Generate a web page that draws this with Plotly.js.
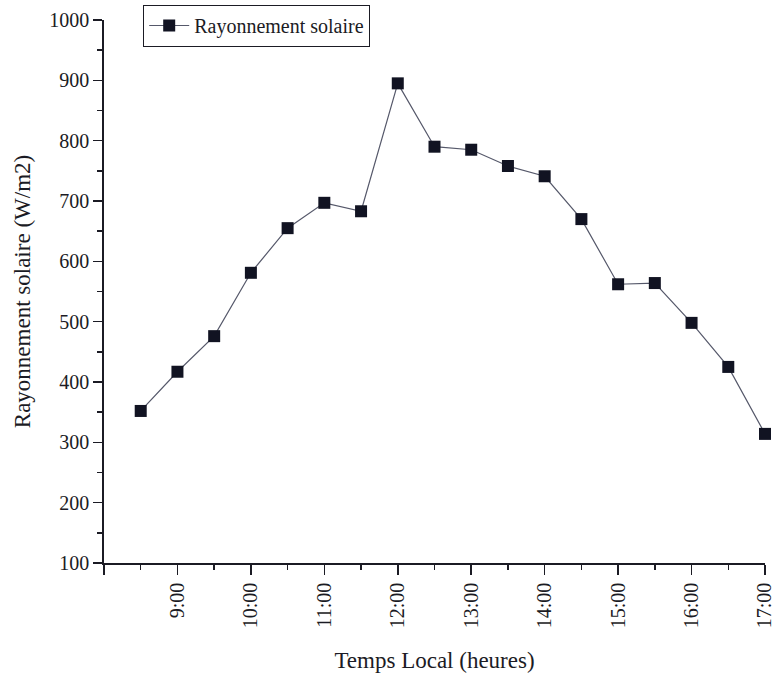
<!DOCTYPE html>
<html>
<head>
<meta charset="utf-8">
<script src="https://cdn.plot.ly/plotly-3.0.1.min.js"></script>
<style>
  html, body { margin: 0; padding: 0; background: #fff; }
  #chart { width: 776px; height: 676px; }
</style>
</head>
<body>
<div id="chart"></div>
<script>
// Local time in decimal hours (8:30 .. 17:00, every half hour)
var heures = [8.5, 9, 9.5, 10, 10.5, 11, 11.5, 12, 12.5, 13, 13.5, 14, 14.5, 15, 15.5, 16, 16.5, 17];
// Measured solar irradiance (W/m2)
var rayonnement = [352, 417, 476, 581, 655, 697, 683, 895, 790, 785, 758, 741, 670, 562, 564, 498, 425, 314];
// Hour tick labels (8:00 tick is drawn without a label)
var tickHeures = [8, 9, 10, 11, 12, 13, 14, 15, 16, 17];
var tickTextes = ['', '9:00', '10:00', '11:00', '12:00', '13:00', '14:00', '15:00', '16:00', '17:00'];

var serif = 'Liberation Serif, Times New Roman, serif';
var encre = '#1b1b24';

var trace = {
  x: heures,
  y: rayonnement,
  type: 'scatter',
  mode: 'lines+markers',
  name: 'Rayonnement solaire',
  line: { color: '#55586a', width: 1.2 },
  marker: { symbol: 'square', size: 12, color: '#111322', line: { width: 0 } },
  cliponaxis: false
};

var layout = {
  width: 776,
  height: 676,
  paper_bgcolor: '#fff',
  plot_bgcolor: '#fff',
  margin: { l: 104, r: 11, t: 20, b: 113, autoexpand: false },
  font: { family: serif, color: encre, size: 20 },
  showlegend: true,
  legend: {
    x: 0.059, y: 1.028, xanchor: 'left', yanchor: 'top',
    bordercolor: encre, borderwidth: 1.2, bgcolor: '#fff',
    font: { family: serif, size: 20, color: encre },
    itemwidth: 40
  },
  xaxis: {
    range: [8, 17],
    automargin: false,
    tickmode: 'array',
    tickvals: tickHeures,
    ticktext: tickTextes,
    tickangle: -90,
    ticklabeloverflow: 'allow',
    ticks: 'outside', ticklen: 10, tickwidth: 1.5, tickcolor: encre,
    minor: { dtick: 0.5, tick0: 8, ticks: 'outside', ticklen: 5, tickwidth: 1.5, tickcolor: encre, showgrid: false },
    showline: true, linecolor: encre, linewidth: 1.8,
    showgrid: false, zeroline: false,
    tickfont: { family: serif, size: 20, color: encre },
    title: { text: 'Temps Local (heures)', font: { family: serif, size: 23, color: encre }, standoff: 24 }
  },
  yaxis: {
    range: [100, 1000],
    automargin: false,
    tick0: 100, dtick: 100,
    ticks: 'outside', ticklen: 9, tickwidth: 1.5, tickcolor: encre,
    minor: { dtick: 50, tick0: 100, ticks: 'outside', ticklen: 5, tickwidth: 1.5, tickcolor: encre, showgrid: false },
    showline: true, linecolor: encre, linewidth: 1.8,
    showgrid: false, zeroline: false,
    tickfont: { family: serif, size: 20, color: encre },
    title: { text: 'Rayonnement solaire (W/m2)', font: { family: serif, size: 23, color: encre }, standoff: 12 }
  }
};

Plotly.newPlot('chart', [trace], layout, { displayModeBar: false, staticPlot: true });
</script>
</body>
</html>
